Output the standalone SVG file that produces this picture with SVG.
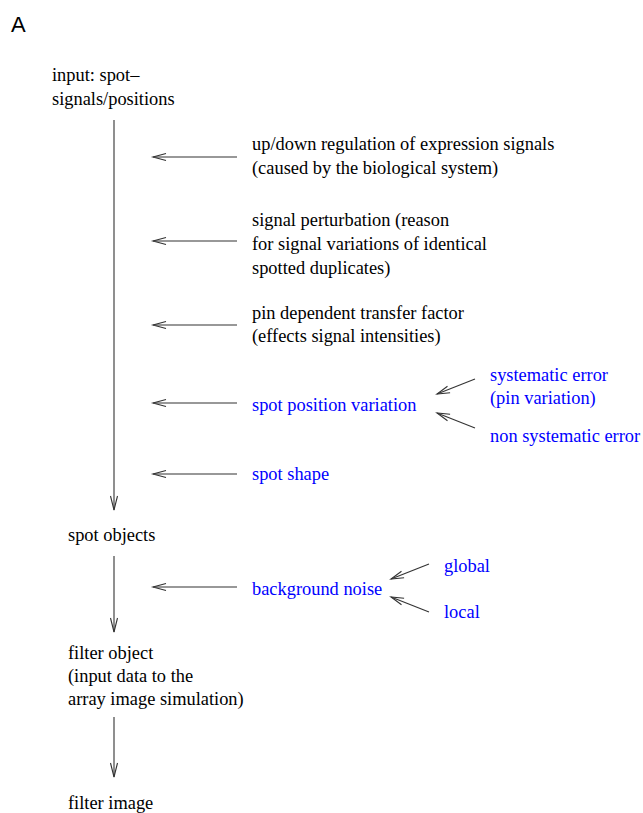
<svg xmlns="http://www.w3.org/2000/svg" width="643" height="813" viewBox="0 0 643 813">
<style>
text{font-family:"Liberation Serif","Times New Roman",serif;font-size:18.4px;fill:#000}
.b{fill:#0000ff}
.lbl{font-family:"Liberation Sans",Arial,sans-serif;font-size:22px}
.c line{stroke:#333;stroke-width:1.1;fill:none}
.c path{stroke:#333;stroke-width:1.1;fill:none}
</style>
<rect width="643" height="813" fill="#fff"/>
<text class="lbl" x="11" y="32">A</text>
<g id="input"><text x="52" y="81">input: spot–</text><text x="52" y="105">signals/positions</text></g>
<g id="updown"><text x="252" y="150">up/down regulation of expression signals</text><text x="252" y="174">(caused by the biological system)</text></g>
<g id="perturb"><text x="252" y="226">signal perturbation (reason</text><text x="252" y="250">for signal variations of identical</text><text x="252" y="274">spotted duplicates)</text></g>
<g id="pin"><text x="252" y="319">pin dependent transfer factor</text><text x="252" y="342">(effects signal intensities)</text></g>
<g id="spotpos"><text class="b" x="252" y="411">spot position variation</text></g>
<g id="syserr"><text class="b" x="490" y="381">systematic error</text><text class="b" x="490" y="404">(pin variation)</text></g>
<g id="nonsys"><text class="b" x="490" y="442">non systematic error</text></g>
<g id="spotshape"><text class="b" x="252" y="480">spot shape</text></g>
<g id="spotobj"><text x="68" y="541">spot objects</text></g>
<g id="bgnoise"><text class="b" x="252" y="595">background noise</text></g>
<g id="global"><text class="b" x="444" y="572">global</text></g>
<g id="local"><text class="b" x="444" y="618">local</text></g>
<g id="filterobj"><text x="68" y="659">filter object</text><text x="68" y="682">(input data to the</text><text x="68" y="705">array image simulation)</text></g>
<g id="filterimg"><text x="68" y="809">filter image</text></g>
<g class="c" id="connectors">
<line x1="114" y1="120" x2="114" y2="510"/><path d="M110.5,496 L114,510 L117.5,496"/>
<line x1="237" y1="157" x2="153" y2="157"/><path d="M166,153.5 L153,157 L166,160.5"/>
<line x1="237" y1="241" x2="153" y2="241"/><path d="M166,237.5 L153,241 L166,244.5"/>
<line x1="237" y1="325" x2="153" y2="325"/><path d="M166,321.5 L153,325 L166,328.5"/>
<line x1="237" y1="403" x2="153" y2="403"/><path d="M166,399.5 L153,403 L166,406.5"/>
<line x1="237" y1="474" x2="153" y2="474"/><path d="M166,470.5 L153,474 L166,477.5"/>
<line x1="475" y1="379" x2="437" y2="394"/><path d="M447.5,386.2 L437,394 L450.1,392.7"/>
<line x1="475" y1="428" x2="437" y2="413"/><path d="M450.1,414.3 L437,413 L447.5,420.8"/>
<line x1="114" y1="556" x2="114" y2="632"/><path d="M110.5,618 L114,632 L117.5,618"/>
<line x1="237" y1="587" x2="153" y2="587"/><path d="M166,583.5 L153,587 L166,590.5"/>
<line x1="429" y1="564" x2="391" y2="579"/><path d="M401.5,571.2 L391,579 L404.1,577.7"/>
<line x1="429" y1="612" x2="391" y2="597"/><path d="M404.1,598.3 L391,597 L401.5,604.8"/>
<line x1="114" y1="717" x2="114" y2="777"/><path d="M110.5,763 L114,777 L117.5,763"/>
</g>
</svg>
